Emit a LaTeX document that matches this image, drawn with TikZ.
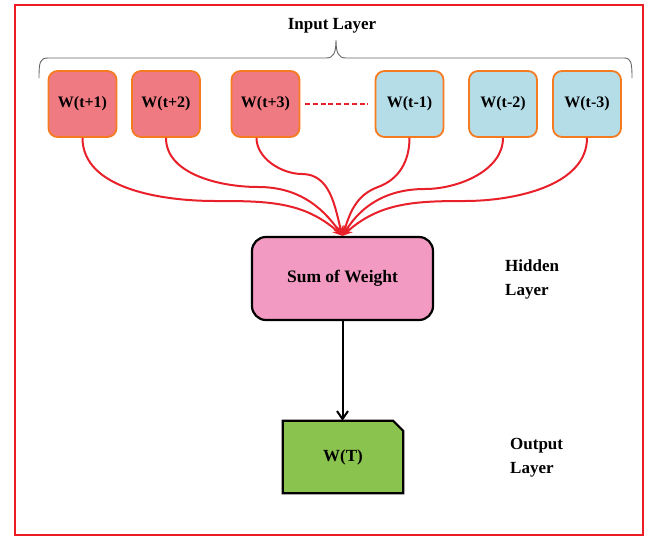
\documentclass[tikz,border=0pt]{standalone}
\usepackage{fontspec}
\setmainfont{Liberation Serif}
\usetikzlibrary{arrows.meta}
\definecolor{framered}{HTML}{ED1C24}
\definecolor{linkred}{HTML}{E8202A}
\definecolor{boxred}{HTML}{F07A82}
\definecolor{boxblue}{HTML}{B5DDE8}
\definecolor{boxedge}{HTML}{F47B20}
\definecolor{sumpink}{HTML}{F29AC1}
\definecolor{outgreen}{HTML}{8BC34F}
\begin{document}
\begin{tikzpicture}[x=1pt,y=1pt,
  inbox/.style={draw=boxedge, line width=1.8pt, rounded corners=9pt, minimum width=68pt, minimum height=66pt, inner sep=0pt, font=\fontsize{16}{18}\selectfont\bfseries},
  redbox/.style={inbox, fill=boxred},
  bluebox/.style={inbox, fill=boxblue},
  link/.style={draw=linkred, line width=2pt, -{Stealth[length=10pt,width=8pt]}},
  lbl/.style={font=\fontsize{17}{24}\selectfont\bfseries, align=left, inner sep=0pt, anchor=north west}
]
\useasboundingbox (0,0) rectangle (646,-536);
\draw[framered, line width=2.4pt] (15,-5) rectangle (643,-535);

\node[font=\fontsize{17}{20}\selectfont\bfseries] (inl) at (332,-26) {Input Layer};
\draw[gray!80!black, line width=0.9pt] (39,-78) .. controls (39,-62) and (40,-58) .. (48,-58) -- (326,-58)
  .. controls (333,-58) and (336,-54) .. (336,-40) .. controls (336,-54) and (339,-58) .. (346,-58)
  -- (624,-58) .. controls (631,-58) and (632,-62) .. (632,-78);

\node[redbox] (b1) at (82.5,-104) {W(t+1)};
\node[redbox] (b2) at (166,-104) {W(t+2)};
\node[redbox] (b3) at (265.5,-104) {W(t+3)};
\node[bluebox] (c1) at (409.5,-104) {W(t-1)};
\node[bluebox] (c2) at (503,-104) {W(t-2)};
\node[bluebox] (c3) at (587,-104) {W(t-3)};
\draw[linkred, line width=2.2pt, dash pattern=on 5pt off 2.8pt, shorten <=4.5pt, shorten >=6.5pt] (b3.east) -- (c1.west);

\node[draw=black, line width=2.2pt, fill=sumpink, rounded corners=14pt, minimum width=181pt, minimum height=83pt, inner sep=0pt,
  font=\fontsize{17.5}{20}\selectfont\bfseries] (sum) at (342.5,-278.5) {Sum of Weight};

\coordinate (m1) at (215,-201);
\coordinate (m2) at (258,-187);
\coordinate (m3) at (302,-174);
\coordinate (m4) at (378,-187);
\coordinate (m5) at (425,-189);
\coordinate (m6) at (465,-201);
\draw[link] (b1.south) to[out=-90,in=180,looseness=0.9] (m1) to[out=0,in=138] (sum.north);
\draw[link] (b2.south) to[out=-90,in=180,looseness=0.9] (m2) to[out=0,in=125] (sum.north);
\draw[link] ([xshift=-9pt]b3.south) to[out=-90,in=180,looseness=0.9] (m3) to[out=0,in=105] (sum.north);
\draw[link] (c1.south) to[out=-90,in=20,looseness=1] (m4) to[out=200,in=72] (sum.north);
\draw[link] (c2.south) to[out=-90,in=0,looseness=0.9] (m5) to[out=180,in=58] (sum.north);
\draw[link] (c3.south) to[out=-90,in=0,looseness=0.9] (m6) to[out=180,in=42] (sum.north);

\node[minimum width=120pt, minimum height=72pt, inner sep=0pt] (out) at (343,-457) {};
\draw[line width=2.2pt, fill=outgreen] (out.south west) -- (out.north west) -- ([xshift=-10pt]out.north east)
  -- ([yshift=-10pt]out.north east) -- (out.south east) -- cycle;
\node[font=\fontsize{17}{20}\selectfont\bfseries] (outt) at (out.center) {W(T)};
\draw[line width=2pt, -{Straight Barb[length=8pt,width=11pt]}] (sum.south) -- (out.north -| sum.south);

\node[lbl] (hid) at (505,-260) {Hidden\\Layer};
\node[lbl] (outl) at (510,-438) {Output\\Layer};
\end{tikzpicture}
\end{document}
